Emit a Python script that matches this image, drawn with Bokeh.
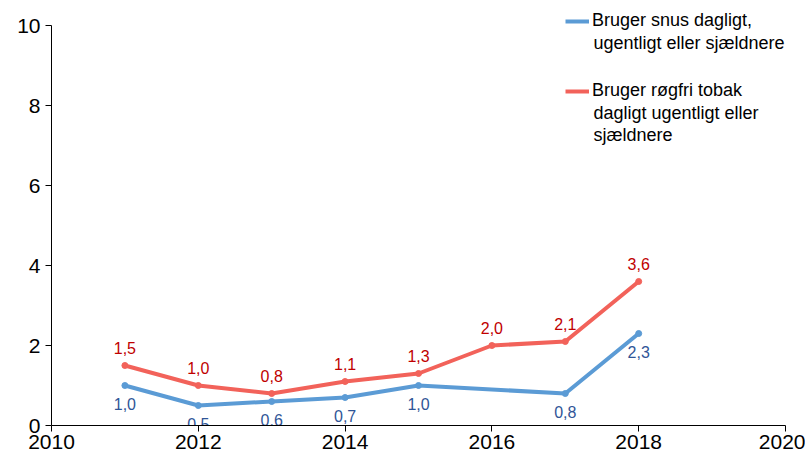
from bokeh.plotting import figure
from bokeh.models import Legend, LegendItem, FixedTicker, ColumnDataSource, Range1d, Label
from bokeh.core.properties import value
from bokeh.embed import file_html
from bokeh.resources import INLINE

snus_years = [2011, 2012, 2013, 2014, 2015, 2017, 2018]
snus_vals = [1.0, 0.5, 0.6, 0.7, 1.0, 0.8, 2.3]
rogfri_years = [2011, 2012, 2013, 2014, 2015, 2016, 2017, 2018]
rogfri_vals = [1.5, 1.0, 0.8, 1.1, 1.3, 2.0, 2.1, 3.6]
x_ticks = [2010, 2012, 2014, 2016, 2018, 2020]
y_ticks = [0, 2, 4, 6, 8, 10]
label_snus = ["Bruger snus dagligt,", "ugentligt eller sjældnere"]
label_rogfri = ["Bruger røgfri tobak", "dagligt ugentligt eller", "sjældnere"]

BLUE = "#5B9BD5"
RED = "#F2625A"
BLUE_T = "#2F5597"
RED_T = "#C00000"
FONT = "Liberation Sans"

LEFT, TOP, BOTTOM_B, RIGHT = 51, 0, 30, 20
FRAME_H = 425          # 10 units = 400 px, plus 25 px headroom above the axis end
Y_END = 10 + 25 / 40.0

p = figure(width=805, height=TOP + FRAME_H + BOTTOM_B, output_backend="svg", toolbar_location=None,
           x_range=Range1d(2010, 2020), y_range=Range1d(0, Y_END),
           min_border_left=LEFT, min_border_right=RIGHT, min_border_top=TOP, min_border_bottom=BOTTOM_B)
p.outline_line_color = None
p.xgrid.grid_line_color = None
p.ygrid.grid_line_color = None

def fmt(v):
    return f"{v:.1f}".replace(".", ",")

src_s = ColumnDataSource(dict(x=snus_years, y=snus_vals, t=[fmt(v) for v in snus_vals]))
src_r = ColumnDataSource(dict(x=rogfri_years, y=rogfri_vals, t=[fmt(v) for v in rogfri_vals]))

ls = p.line("x", "y", source=src_s, line_color=BLUE, line_width=4)
p.scatter("x", "y", source=src_s, size=6, color=BLUE)
lr = p.line("x", "y", source=src_r, line_color=RED, line_width=4)
p.scatter("x", "y", source=src_r, size=6, color=RED)

p.text("x", "y", text="t", source=src_s, y_offset=18, text_align="center", text_baseline="middle",
       text_font=value(FONT), text_font_size="16px", text_color=BLUE_T)
p.text("x", "y", text="t", source=src_r, y_offset=-18, text_align="center", text_baseline="middle",
       text_font=value(FONT), text_font_size="16px", text_color=RED_T)

for ax in (p.xaxis[0], p.yaxis[0]):
    ax.axis_line_color = "#000000"
    ax.axis_line_width = 1
    ax.major_tick_line_color = "#000000"
    ax.minor_tick_line_color = None
    ax.major_tick_in = 0
    ax.major_tick_out = 6
    ax.major_label_text_font = FONT
    ax.major_label_text_font_size = "21px"
    ax.major_label_text_color = "#000000"
p.xaxis.ticker = FixedTicker(ticks=x_ticks)
p.yaxis.ticker = FixedTicker(ticks=y_ticks)
p.yaxis.bounds = (0, 10)
p.xaxis.major_label_standoff = 3
p.yaxis.major_label_standoff = 5

LEG_FS = "18px"
# legend entries: (renderer, lines, screen y of first line centre)
entries = [(ls, label_snus, 20), (lr, label_rogfri, 90)]
for rend, lines, y0 in entries:
    leg = Legend(items=[LegendItem(label=lines[0], renderers=[rend])],
                 location=(566 - LEFT - 1, TOP + FRAME_H - (y0 + 11)),
                 label_text_font=FONT, label_text_font_size=LEG_FS, label_text_color="#000000",
                 glyph_width=24, glyph_height=14, label_standoff=3,
                 padding=0, margin=0, background_fill_alpha=0, border_line_color=None)
    p.add_layout(leg, "center")
    for i, line in enumerate(lines[1:], start=1):
        p.add_layout(Label(x=593 - LEFT, y=TOP + FRAME_H - (y0 + 22 * i), x_units="screen", y_units="screen",
                           text=line, text_font=FONT, text_font_size=LEG_FS, text_color="#000000",
                           text_baseline="middle", text_align="left"))

open("out.html", "w").write(file_html(p, INLINE))
